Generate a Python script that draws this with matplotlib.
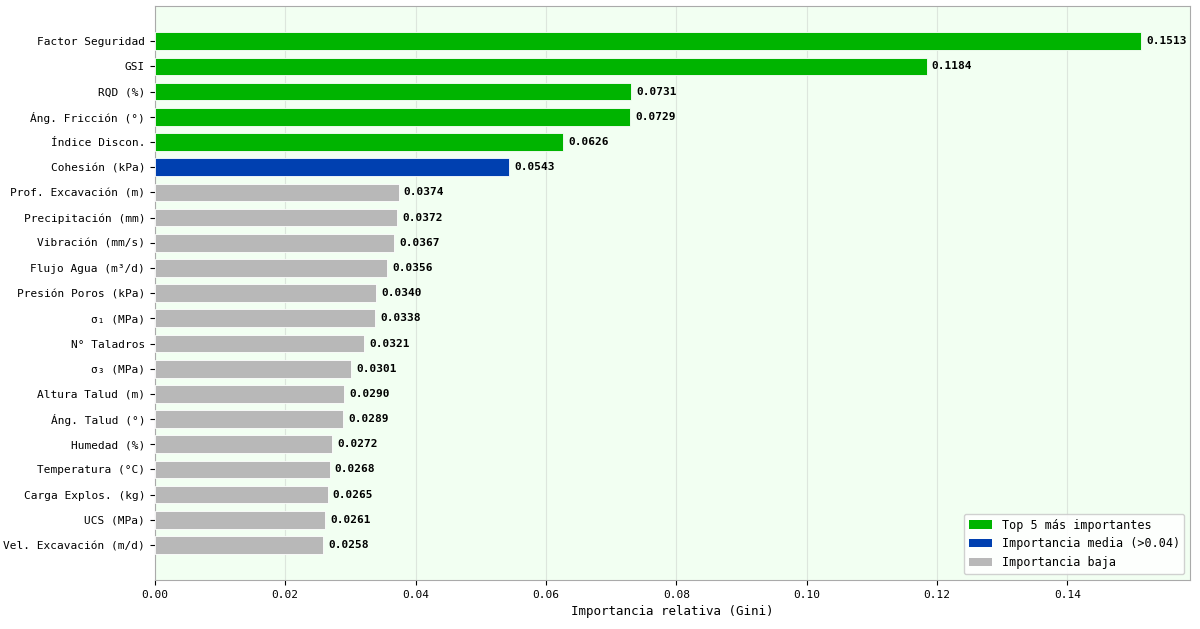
import matplotlib

matplotlib.use("Agg")
import matplotlib.pyplot as plt
from matplotlib.patches import Patch

plt.rcParams["font.family"] = ["DejaVu Sans Mono", "DejaVu Sans"]

features = [
    "Factor Seguridad", "GSI", "RQD (%)", "Áng. Fricción (°)", "Índice Discon.",
    "Cohesión (kPa)", "Prof. Excavación (m)", "Precipitación (mm)",
    "Vibración (mm/s)", "Flujo Agua (m³/d)", "Presión Poros (kPa)",
    "σ₁ (MPa)", "N° Taladros", "σ₃ (MPa)", "Altura Talud (m)",
    "Áng. Talud (°)", "Humedad (%)", "Temperatura (°C)",
    "Carga Explos. (kg)", "UCS (MPa)", "Vel. Excavación (m/d)",
]
importance = [
    0.1513, 0.1184, 0.0731, 0.0729, 0.0626, 0.0543, 0.0374, 0.0372,
    0.0367, 0.0356, 0.0340, 0.0338, 0.0321, 0.0301, 0.0290, 0.0289,
    0.0272, 0.0268, 0.0265, 0.0261, 0.0258,
]
groups = ["top"] * 5 + ["media"] + ["baja"] * 15

COLORS = {"top": "#00b400", "media": "#0040b0", "baja": "#b8b8b8"}
LEGEND = [
    ("top", "Top 5 más importantes"),
    ("media", "Importancia media (>0.04)"),
    ("baja", "Importancia baja"),
]

fig, ax = plt.subplots(figsize=(12, 6.29), dpi=100)
fig.subplots_adjust(left=0.129, right=0.992, top=0.99, bottom=0.078)
ax.set_facecolor("#f2fff2")

y = list(range(len(features)))
ax.barh(y, importance, height=0.7, color=[COLORS[g] for g in groups],
        edgecolor="white", linewidth=0.6, zorder=3)
for yi, v in zip(y, importance):
    ax.text(v + 0.0008, yi, f"{v:.4f}", va="center", ha="left",
            fontsize=8, fontweight="bold", zorder=4)

ax.set_yticks(y)
ax.set_yticklabels(features, fontsize=8)
ax.invert_yaxis()
ax.set_xlim(0, max(importance) * 1.05)
ax.tick_params(axis="x", labelsize=8)
ax.set_xlabel("Importancia relativa (Gini)", fontsize=9)
ax.grid(axis="x", color="#dde6dd", linewidth=0.8, zorder=0)
for s in ax.spines.values():
    s.set_color("#aaaaaa")

handles = [Patch(facecolor=COLORS[k], label=lab) for k, lab in LEGEND]
ax.legend(handles=handles, loc="lower right", fontsize=8.5, framealpha=0.9)

fig.savefig("out.png", dpi=100)
